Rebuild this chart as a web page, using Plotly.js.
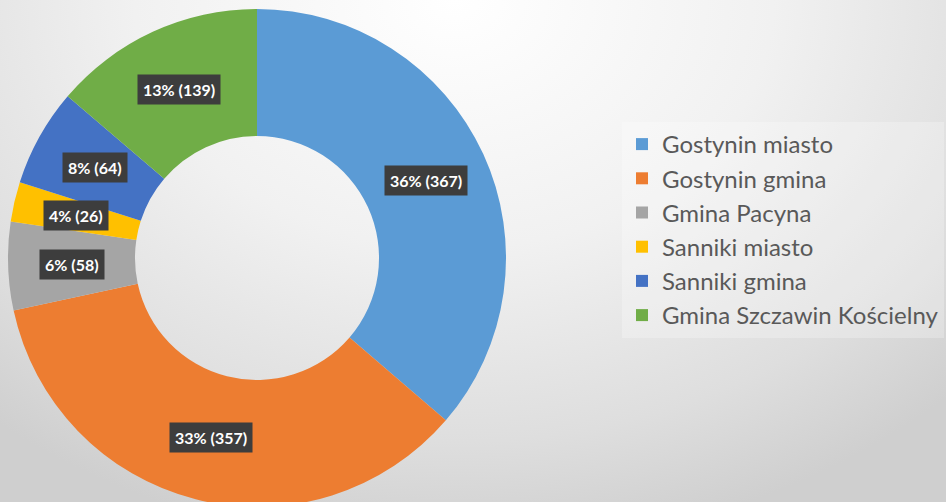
<!DOCTYPE html>
<html>
<head>
<meta charset="utf-8">
<script src="https://cdn.plot.ly/plotly-3.0.1.min.js"></script>
<style>
  html, body { margin:0; padding:0; width:946px; height:502px; overflow:hidden;
    background: radial-gradient(ellipse 75% 110% at 48% 0%, #ffffff 0%, #f1f1f1 45%, #dedede 80%, #cfcfcf 100%); }
  #chart { width:946px; height:512px; }
</style>
</head>
<body>
<div id="chart"></div>
<script>
// ---- data ----
const categories = ["Gostynin miasto", "Gostynin gmina", "Gmina Pacyna", "Sanniki miasto", "Sanniki gmina", "Gmina Szczawin Kościelny"];
const values = [367, 357, 58, 26, 64, 139];
const percentLabels = ["36%", "33%", "6%", "4%", "8%", "13%"];
const colors = ["#5B9BD5", "#ED7D31", "#A5A5A5", "#FFC000", "#4472C4", "#70AD47"];

// ---- layout geometry ----
const W = 946, H = 512;
const domX = [8 / W, 506 / W];
const domY = [1 - 507 / H, 1 - 9 / H];
const holeFrac = 0.49;

const trace = {
  type: "pie",
  labels: categories,
  values: values,
  sort: false,
  direction: "clockwise",
  rotation: 0,
  hole: holeFrac,
  textinfo: "none",
  hoverinfo: "label+value+percent",
  marker: { colors: colors, line: { width: 0 } },
  domain: { x: domX, y: domY }
};

// label positions derived from the data (mid-angle of each slice, mid-radius of ring)
const cxPx = (domX[0] + domX[1]) / 2 * W;
const cyPx = H - (domY[0] + domY[1]) / 2 * H;
const Rpx = Math.min((domX[1] - domX[0]) * W, (domY[1] - domY[0]) * H) / 2;
const rMid = Rpx * (1 + holeFrac) / 2;
const total = values.reduce((a, b) => a + b, 0);
let cum = 0;
const annotations = values.map((v, i) => {
  const mid = (cum + v / 2) / total * 2 * Math.PI;
  cum += v;
  const px = cxPx + rMid * Math.sin(mid);
  const py = cyPx - rMid * Math.cos(mid);
  return {
    x: px / W, y: 1 - py / H, xref: "paper", yref: "paper",
    text: "<b>" + percentLabels[i] + " (" + v + ")</b>",
    showarrow: false,
    font: { family: "Lato, 'Open Sans', sans-serif", size: 16, color: "#ffffff" },
    bgcolor: "#3d3d3d",
    borderpad: 5,
    xanchor: "center", yanchor: "middle"
  };
});

const layout = {
  width: W, height: H,
  margin: { l: 0, r: 0, t: 0, b: 0 },
  paper_bgcolor: "rgba(0,0,0,0)",
  plot_bgcolor: "rgba(0,0,0,0)",
  showlegend: true,
  legend: {
    x: 0.6575, y: 1 - 230 / H, xanchor: "left", yanchor: "middle",
    font: { family: "Lato, 'Open Sans', sans-serif", size: 24, color: "#595959" },
    bgcolor: "rgba(255,255,255,0.25)",
    itemwidth: 30,
    traceorder: "normal"
  },
  annotations: annotations
};

Plotly.newPlot("chart", [trace], layout, { displayModeBar: false, staticPlot: true });
</script>
</body>
</html>
